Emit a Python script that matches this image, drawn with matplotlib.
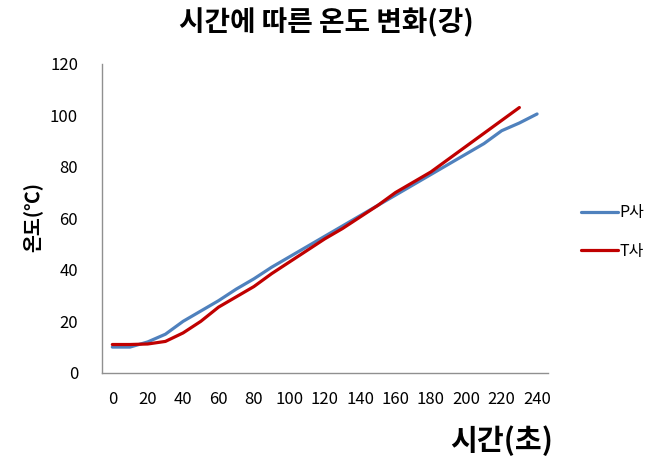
import matplotlib
matplotlib.use("Agg")
import matplotlib.pyplot as plt

plt.rcParams['font.family'] = ['Noto Sans CJK KR', 'DejaVu Sans']

# time (s) and temperature readings
time_p = [0, 10, 20, 30, 40, 50, 60, 70, 80, 90, 100, 110, 120, 130, 140, 150,
          160, 170, 180, 190, 200, 210, 220, 230, 240]
temp_p = [10, 10, 12, 15, 20, 24, 28, 32.5, 36.5, 41, 45, 49, 53, 57, 61, 65,
          69, 73, 77, 81, 85, 89, 94, 97, 100.5]

time_t = [0, 10, 20, 30, 40, 50, 60, 70, 80, 90, 100, 110, 120, 130, 140, 150,
          160, 170, 180, 190, 200, 210, 220, 230]
temp_t = [11, 11, 11.2, 12.2, 15.5, 20, 25.5, 29.5, 33.5, 38.5, 43, 47.5, 52,
          56, 60.5, 65, 70, 74, 78, 83, 88, 93, 98, 103]

x_ticks = list(range(0, 241, 20))
y_ticks = list(range(0, 121, 20))

fig = plt.figure(figsize=(6.52, 4.62), dpi=100)
ax = fig.add_axes([0.156, 0.193, 0.684, 0.669])

ax.plot(time_p, temp_p, color='#4F81BD', linewidth=2.3, label='P사',
        solid_capstyle='round')
ax.plot(time_t, temp_t, color='#C00000', linewidth=2.3, label='T사',
        solid_capstyle='round')

ax.set_xlim(-6, 246)
ax.set_ylim(0, 120)
ax.set_xticks(x_ticks)
ax.set_yticks(y_ticks)
ax.tick_params(length=0, labelsize=12)
ax.tick_params(axis='y', pad=17)
ax.tick_params(axis='x', pad=13)
for s in ['top', 'right']:
    ax.spines[s].set_visible(False)
for s in ['left', 'bottom']:
    ax.spines[s].set_color('#909090')
    ax.spines[s].set_linewidth(1.0)

fig.text(0.5, 0.952, '시간에 따른 온도 변화(강)', ha='center', va='center',
         fontsize=20, fontweight='bold')
fig.text(0.848, 0.047, '시간(초)', ha='right', va='center',
         fontsize=21, fontweight='bold')
fig.text(0.05, 0.53, '온도(℃)', ha='center', va='center', rotation=90,
         fontsize=14, fontweight='bold')

ax.legend(loc='center left', bbox_to_anchor=(1.05, 0.455), frameon=False,
          fontsize=11.5, handlelength=2.3, handletextpad=0.1, labelspacing=1.35,
          borderpad=0.2)

fig.savefig('out.png', dpi=100)
